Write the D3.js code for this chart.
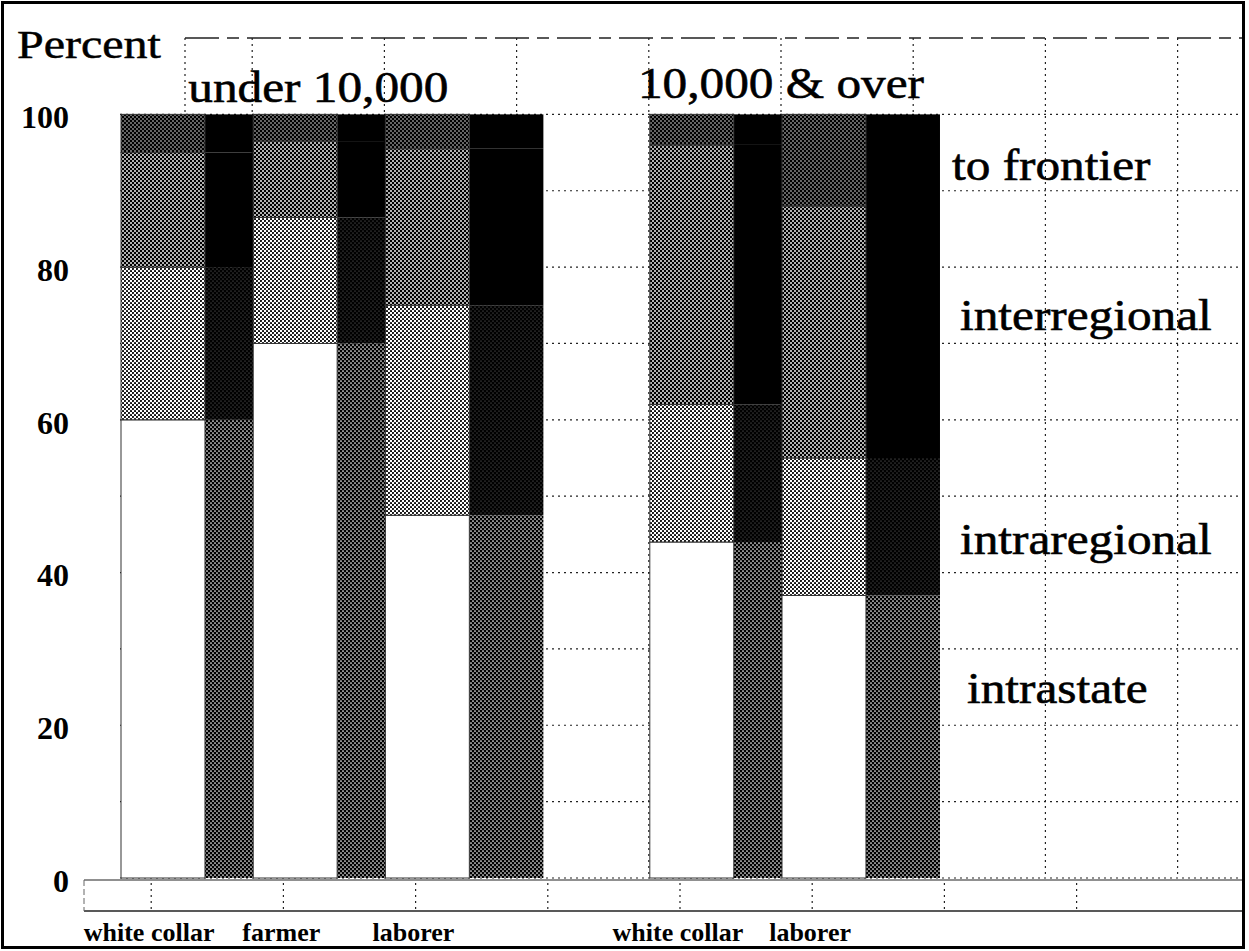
<!DOCTYPE html>
<html>
<head>
<meta charset="utf-8">
<script src="https://cdn.jsdelivr.net/npm/d3@7"></script>
<style>
  body { margin: 0; background: #fff; }
  svg { display: block; font-family: "Liberation Serif", "DejaVu Serif", serif; }
</style>
</head>
<body>
<div id="chart"></div>
<script>
// data (percent of movers, by destination)
const occupations = ["white collar", "farmer", "laborer", "white collar", "laborer"];
const citySizes = ["under 10,000", "under 10,000", "under 10,000", "10,000 & over", "10,000 & over"];
const groupTitles = ["under 10,000", "10,000 & over"];
const moveTypes = ["intrastate", "intraregional", "interregional", "to frontier"];
const intrastate = [60, 70, 47.5, 44, 37];
const intraregional = [20, 16.5, 27.5, 18, 18];
const interregional = [15, 10, 20.5, 34, 33];
const toFrontier = [5, 3.5, 4.5, 4, 12];
const yTicks = [0, 20, 40, 60, 80, 100];

const W = 1249, H = 951;
const plotLeft = 120, plotRight = 1243, slotW = 132.2;

function buildRows() {
  return occupations.map((occ, i) => ({
    key: citySizes[i] + "|" + occ,
    occupation: occ,
    size: citySizes[i],
    intrastate: intrastate[i],
    intraregional: intraregional[i],
    interregional: interregional[i],
    "to frontier": toFrontier[i],
  }));
}

function createScales(rows) {
  // one empty slot after each group, and empty slots fill the rest of the grid
  const slots = [];
  groupTitles.forEach((g, gi) => {
    rows.filter((r) => r.size === g).forEach((r) => slots.push(r.key));
    slots.push("gap" + gi);
  });
  slots.push("gap2", "gap3");

  const xScale = d3.scaleBand().domain(slots).range([plotLeft, plotLeft + slotW * slots.length]);
  const yScale = d3.scaleLinear().domain([0, 110]).range([878, 38]);
  return { xScale, yScale, slots };
}

function addPatterns(svg) {
  const defs = svg.append("defs");
  const pats = [
    { id: "light", bg: "#fff", dot: "#000", r: 1.05 },
    { id: "mid", bg: "#000", dot: "#fff", r: 0.92 },
    { id: "dark", bg: "#000", dot: "#fff", r: 0.72 },
    { id: "side", bg: "#000", dot: "#fff", r: 0.85 },
    { id: "deep", bg: "#000", dot: "#fff", r: 0.4 },
  ];
  pats.forEach((p) => {
    const pat = defs.append("pattern")
      .attr("id", p.id)
      .attr("width", 4)
      .attr("height", 4)
      .attr("patternUnits", "userSpaceOnUse");
    pat.append("rect").attr("width", 4).attr("height", 4).attr("fill", p.bg);
    [[1, 1], [3, 3]].forEach(([cx, cy]) => {
      pat.append("circle").attr("cx", cx).attr("cy", cy).attr("r", p.r).attr("fill", p.dot);
    });
  });
}

function drawGrid(svg, xScale, yScale, slots) {
  const g = svg.append("g").attr("stroke", "#222").attr("fill", "none");
  const bounds = slots.slice(1).map((s) => xScale(s)).filter((x) => x < plotRight);

  g.selectAll(".hgrid")
    .data(d3.range(0, 101, 10))
    .enter()
    .append("line")
    .attr("x1", plotLeft)
    .attr("x2", plotRight)
    .attr("y1", (d) => yScale(d))
    .attr("y2", (d) => yScale(d))
    .attr("stroke-width", 1.2)
    .attr("stroke-dasharray", "2,4");

  // top band above 100
  g.append("line")
    .attr("x1", 185).attr("x2", plotRight)
    .attr("y1", yScale(110)).attr("y2", yScale(110))
    .attr("stroke-width", 1.5)
    .attr("stroke-dasharray", "34,8,12,8");

  g.selectAll(".vgrid")
    .data([185].concat(bounds))
    .enter()
    .append("line")
    .attr("x1", (d) => d).attr("x2", (d) => d)
    .attr("y1", yScale(110))
    .attr("y2", (d) => (d === 185 ? yScale(100) : yScale(0)))
    .attr("stroke-width", 1.2)
    .attr("stroke-dasharray", "2,4");

  g.append("line")
    .attr("x1", plotLeft + 3).attr("x2", plotLeft + 3)
    .attr("y1", yScale(100)).attr("y2", yScale(0))
    .attr("stroke", "#777")
    .attr("stroke-width", 1.2)
    .attr("stroke-dasharray", "40,4,6,4");
}

function drawBars(svg, rows, xScale, yScale) {
  const series = d3.stack().keys(moveTypes)(rows);
  const frontFill = { intrastate: "#fff", intraregional: "url(#light)", interregional: "url(#mid)", "to frontier": "url(#dark)" };
  const sideFill = { intrastate: "url(#side)", intraregional: "url(#deep)", interregional: "#000", "to frontier": "#000" };
  const barW = xScale.bandwidth() * 0.635;
  const depth = xScale.bandwidth() * 0.56;

  rows.forEach((row, i) => {
    const segs = series.map((s) => ({ key: s.key, y0: s[i][0], y1: s[i][1] }));
    const x0 = xScale(row.key) + 1;
    const g = svg.append("g");

    // darker side face, later bars cover part of it
    g.selectAll(".side")
      .data(segs)
      .enter()
      .append("rect")
      .attr("x", x0 + barW)
      .attr("y", (d) => yScale(d.y1))
      .attr("width", depth)
      .attr("height", (d) => yScale(d.y0) - yScale(d.y1))
      .style("fill", (d) => sideFill[d.key]);

    g.selectAll(".front")
      .data(segs)
      .enter()
      .append("rect")
      .attr("x", x0)
      .attr("y", (d) => yScale(d.y1))
      .attr("width", barW)
      .attr("height", (d) => yScale(d.y0) - yScale(d.y1))
      .style("fill", (d) => frontFill[d.key])
      .style("stroke", "#333")
      .style("stroke-width", 1);
  });
}

function stretch(sel, k) {
  sel.each(function () {
    const w = this.getComputedTextLength();
    d3.select(this).attr("textLength", w * k).attr("lengthAdjust", "spacingAndGlyphs");
  });
}

function addAxes(svg, rows, xScale, yScale, slots) {
  const yAxis = d3.axisLeft(yScale).tickValues(yTicks).tickSize(0).tickPadding(0);
  const ay = svg.append("g").attr("transform", "translate(69,3)").call(yAxis);
  ay.select(".domain").remove();
  ay.selectAll("text")
    .style("font-family", "'Liberation Serif', serif")
    .style("font-size", "32px")
    .style("font-weight", "bold")
    .style("fill", "#000");

  // category strip under the plot
  const boxTop = yScale(0) + 2, boxBottom = yScale(0) + 33;
  const strip = svg.append("g").attr("fill", "none").attr("stroke", "#222");
  strip.append("line").attr("x1", 84).attr("x2", plotRight).attr("y1", boxTop).attr("y2", boxTop).attr("stroke-width", 1.2);
  strip.append("line").attr("x1", 84).attr("x2", plotRight).attr("y1", boxBottom).attr("y2", boxBottom).attr("stroke-width", 1.5);
  strip.append("line").attr("x1", 84).attr("x2", 84).attr("y1", boxTop).attr("y2", boxBottom)
    .attr("stroke-dasharray", "6,3").attr("stroke", "#666");
  strip.selectAll(".tick")
    .data(slots.slice(1).map((s) => xScale(s) - 101).filter((x) => x < plotRight))
    .enter()
    .append("line")
    .attr("x1", (d) => d).attr("x2", (d) => d)
    .attr("y1", boxTop + 3).attr("y2", boxBottom - 2)
    .attr("stroke-width", 1.2)
    .attr("stroke-dasharray", "2,4");

  svg.selectAll(".cat")
    .data(rows)
    .enter()
    .append("text")
    .attr("x", (d) => xScale(d.key) + xScale.bandwidth() / 2 - 37)
    .attr("y", 941)
    .attr("text-anchor", "middle")
    .style("font-size", "26px")
    .style("font-weight", "bold")
    .text((d) => d.occupation);
}

function addTitles(svg, rows, xScale) {
  const pct = svg.append("text").attr("x", 17).attr("y", 58)
    .style("font-size", "40px").style("stroke", "#000").style("stroke-width", 0.5)
    .text("Percent");
  stretch(pct, 1.2);

  // group headings centred over each group's slots
  const heads = svg.selectAll(".head")
    .data(groupTitles)
    .enter()
    .append("text")
    .attr("x", (g) => {
      const keys = rows.filter((r) => r.size === g).map((r) => r.key);
      return (xScale(keys[0]) + xScale(keys[keys.length - 1]) + xScale.bandwidth()) / 2;
    })
    .attr("y", (g, i) => (i === 0 ? 102 : 98))
    .attr("text-anchor", "middle")
    .style("font-size", "44px")
    .style("stroke", "#000")
    .style("stroke-width", 0.6)
    .text((g) => g);
  stretch(heads, 1.12);

  const legendY = { "to frontier": 180, interregional: 330, intraregional: 554, intrastate: 703 };
  const legendX = { "to frontier": 952, interregional: 960, intraregional: 960, intrastate: 967 };
  const leg = svg.selectAll(".leg")
    .data(moveTypes)
    .enter()
    .append("text")
    .attr("x", (d) => legendX[d])
    .attr("y", (d) => legendY[d])
    .style("font-size", "44px")
    .style("stroke", "#000")
    .style("stroke-width", 0.6)
    .text((d) => d);
  stretch(leg, 1.12);
}

function drawChart() {
  const rows = buildRows();
  const { xScale, yScale, slots } = createScales(rows);
  const svg = d3.select("#chart").append("svg").attr("width", W).attr("height", H);
  svg.append("rect").attr("width", W).attr("height", H).attr("fill", "#fff");
  addPatterns(svg);
  drawGrid(svg, xScale, yScale, slots);
  drawBars(svg, rows, xScale, yScale);
  addAxes(svg, rows, xScale, yScale, slots);
  addTitles(svg, rows, xScale);

  svg.append("rect")
    .attr("x", 2.5).attr("y", 2.5)
    .attr("width", 1241).attr("height", 945)
    .attr("fill", "none")
    .attr("stroke", "#000")
    .attr("stroke-width", 3);
}

drawChart();
</script>
</body>
</html>
